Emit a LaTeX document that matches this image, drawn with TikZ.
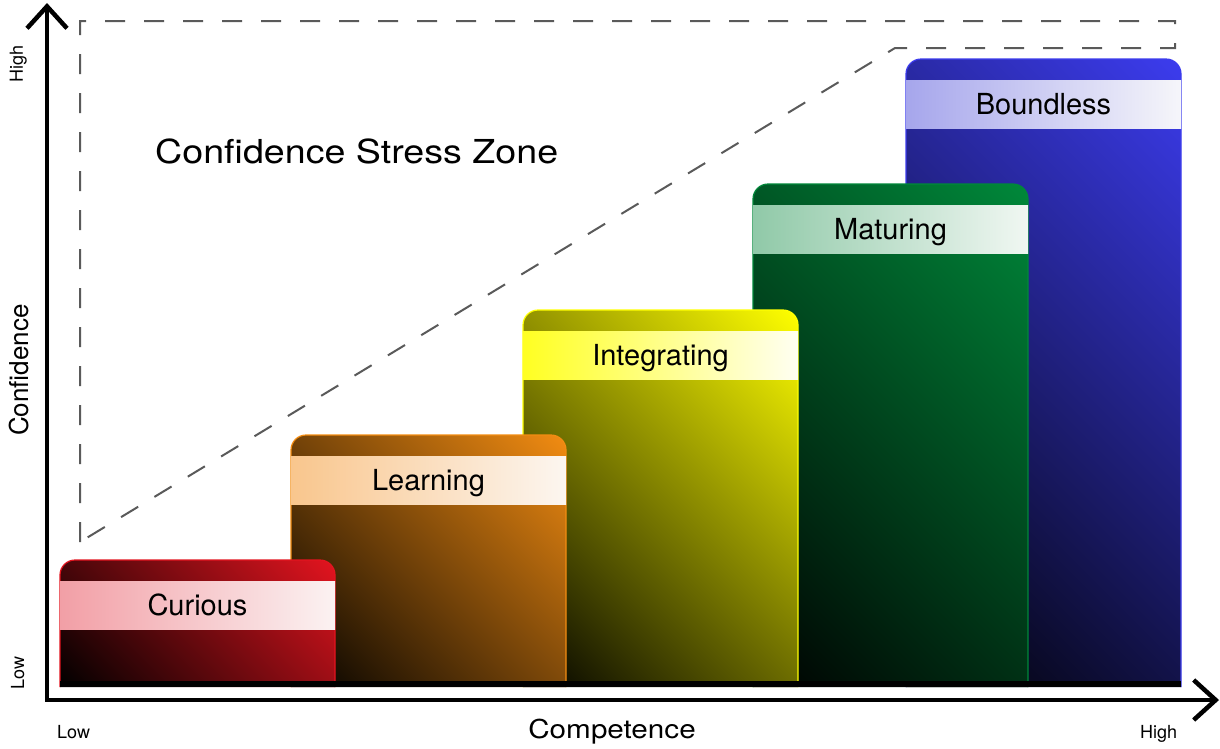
\documentclass[tikz,border=0pt]{standalone}
\usepackage{fontspec}
\setmainfont{TeX Gyre Heros}
\usetikzlibrary{arrows.meta}

% stage colours: bright tone, band left tint, band right tint
\definecolor{curiousC}{HTML}{E3141F}
\definecolor{curiousL}{HTML}{F29FA6}
\definecolor{curiousR}{HTML}{FBF2F2}
\definecolor{learningC}{HTML}{F28C12}
\definecolor{learningL}{HTML}{F9C68D}
\definecolor{learningR}{HTML}{FCF6F0}
\definecolor{integratingC}{HTML}{FFFF00}
\definecolor{integratingL}{HTML}{FFFF22}
\definecolor{integratingR}{HTML}{FFFFF2}
\definecolor{maturingC}{HTML}{00883A}
\definecolor{maturingL}{HTML}{90C9A8}
\definecolor{maturingR}{HTML}{F0F7F2}
\definecolor{boundlessC}{HTML}{3C3CEE}
\definecolor{boundlessL}{HTML}{A6A6EC}
\definecolor{boundlessR}{HTML}{F6F6FA}
\definecolor{zonegray}{HTML}{5A5A5A}

\tikzset{
  axisline/.style={line width=4.5pt, line cap=butt, line join=miter,
    {Straight Barb[length=22pt,width=40pt]}-{Straight Barb[length=22pt,width=40pt]}},
  zoneline/.style={zonegray, line width=2pt, dash pattern=on 20pt off 19pt},
  band/.style={rectangle, minimum width=275pt, minimum height=48pt, inner sep=0pt,
    text height=21pt, text depth=0pt, font=\fontsize{29}{30}\selectfont},
  smalllabel/.style={inner sep=0pt, font=\fontsize{18}{20}\selectfont},
  title/.style={inner sep=0pt, font=\fontsize{26}{28}\selectfont},
  zonetext/.style={inner sep=0pt, font=\fontsize{33}{36}\selectfont},
}

% one competence stage: name, left x, top y, colour prefix, label
\newcommand\stagebar[5]{%
  \pgfmathsetmacro\sbH{687-#3}%
  \pgfmathsetmacro\sbS{(275+\sbH)/sqrt(2)}%
  \pgfmathsetmacro\sbX{#2+137.5}%
  \pgfmathsetmacro\sbY{(687+#3)/2}%
  \begin{scope}
    \clip[rounded corners=15pt] (#2,687) -- (#2,#3) -- ({#2+275},#3) -- ({#2+275},687);
    \shade[left color=black, right color=#4C, shading angle=135]
      ({\sbX-\sbS/2},{\sbY-\sbS/2}) rectangle ({\sbX+\sbS/2},{\sbY+\sbS/2});
  \end{scope}
  \draw[#4C, line width=1.2pt, rounded corners=15pt]
    (#2,687) -- (#2,#3) -- ({#2+275},#3) -- ({#2+275},687);
  \node[band, left color=#4L, right color=#4R] (#1) at (\sbX,{#3+45}) {#5};
}

\begin{document}
\begin{tikzpicture}[x=1pt, y=-1pt]
  \path[use as bounding box, fill=white] (0,0) rectangle (1220,748);

  % stress zone outline
  \coordinate (z1) at (80,542);
  \coordinate (z2) at (80,21);
  \coordinate (z3) at (1175,21);
  \coordinate (z4) at (1175,48);
  \coordinate (z5) at (895,48);
  \draw[zoneline] (z1) -- (z2) -- (z3) -- (z4) -- (z5) -- cycle;
  \node[zonetext, anchor=base west] (zone) at (155,163)
    {\scalebox{1.14}[1]{Confidence Stress Zone}};

  % stages, back to front
  \stagebar{boundless}{906}{59}{boundless}{Boundless}
  \stagebar{maturing}{753}{184}{maturing}{Maturing}
  \stagebar{integrating}{523}{310}{integrating}{Integrating}
  \stagebar{learning}{291}{435}{learning}{Learning}
  \stagebar{curious}{60}{560}{curious}{Curious}

  % base strip under the stages
  \fill[black] (60,681) rectangle (1181,687);

  % axes
  \coordinate (ytip) at (47,3);
  \coordinate (origin) at (47,700);
  \coordinate (xtip) at (1219,700);
  \draw[axisline] (ytip) -- (origin) -- (xtip);

  % axis labels
  \node[smalllabel, rotate=90, anchor=base west] (yhigh) at (23,83) {High};
  \node[smalllabel, rotate=90, anchor=base west] (ylow) at (24,690) {Low};
  \node[title, rotate=90, anchor=base west] (ytitle) at (28,436) {Confidence};
  \node[smalllabel, anchor=base west] (xlow) at (57,738) {Low};
  \node[smalllabel, anchor=base west] (xhigh) at (1140,738) {High};
  \node[title, anchor=base] (xtitle) at (612,738) {\scalebox{1.14}[1]{Competence}};
\end{tikzpicture}
\end{document}
